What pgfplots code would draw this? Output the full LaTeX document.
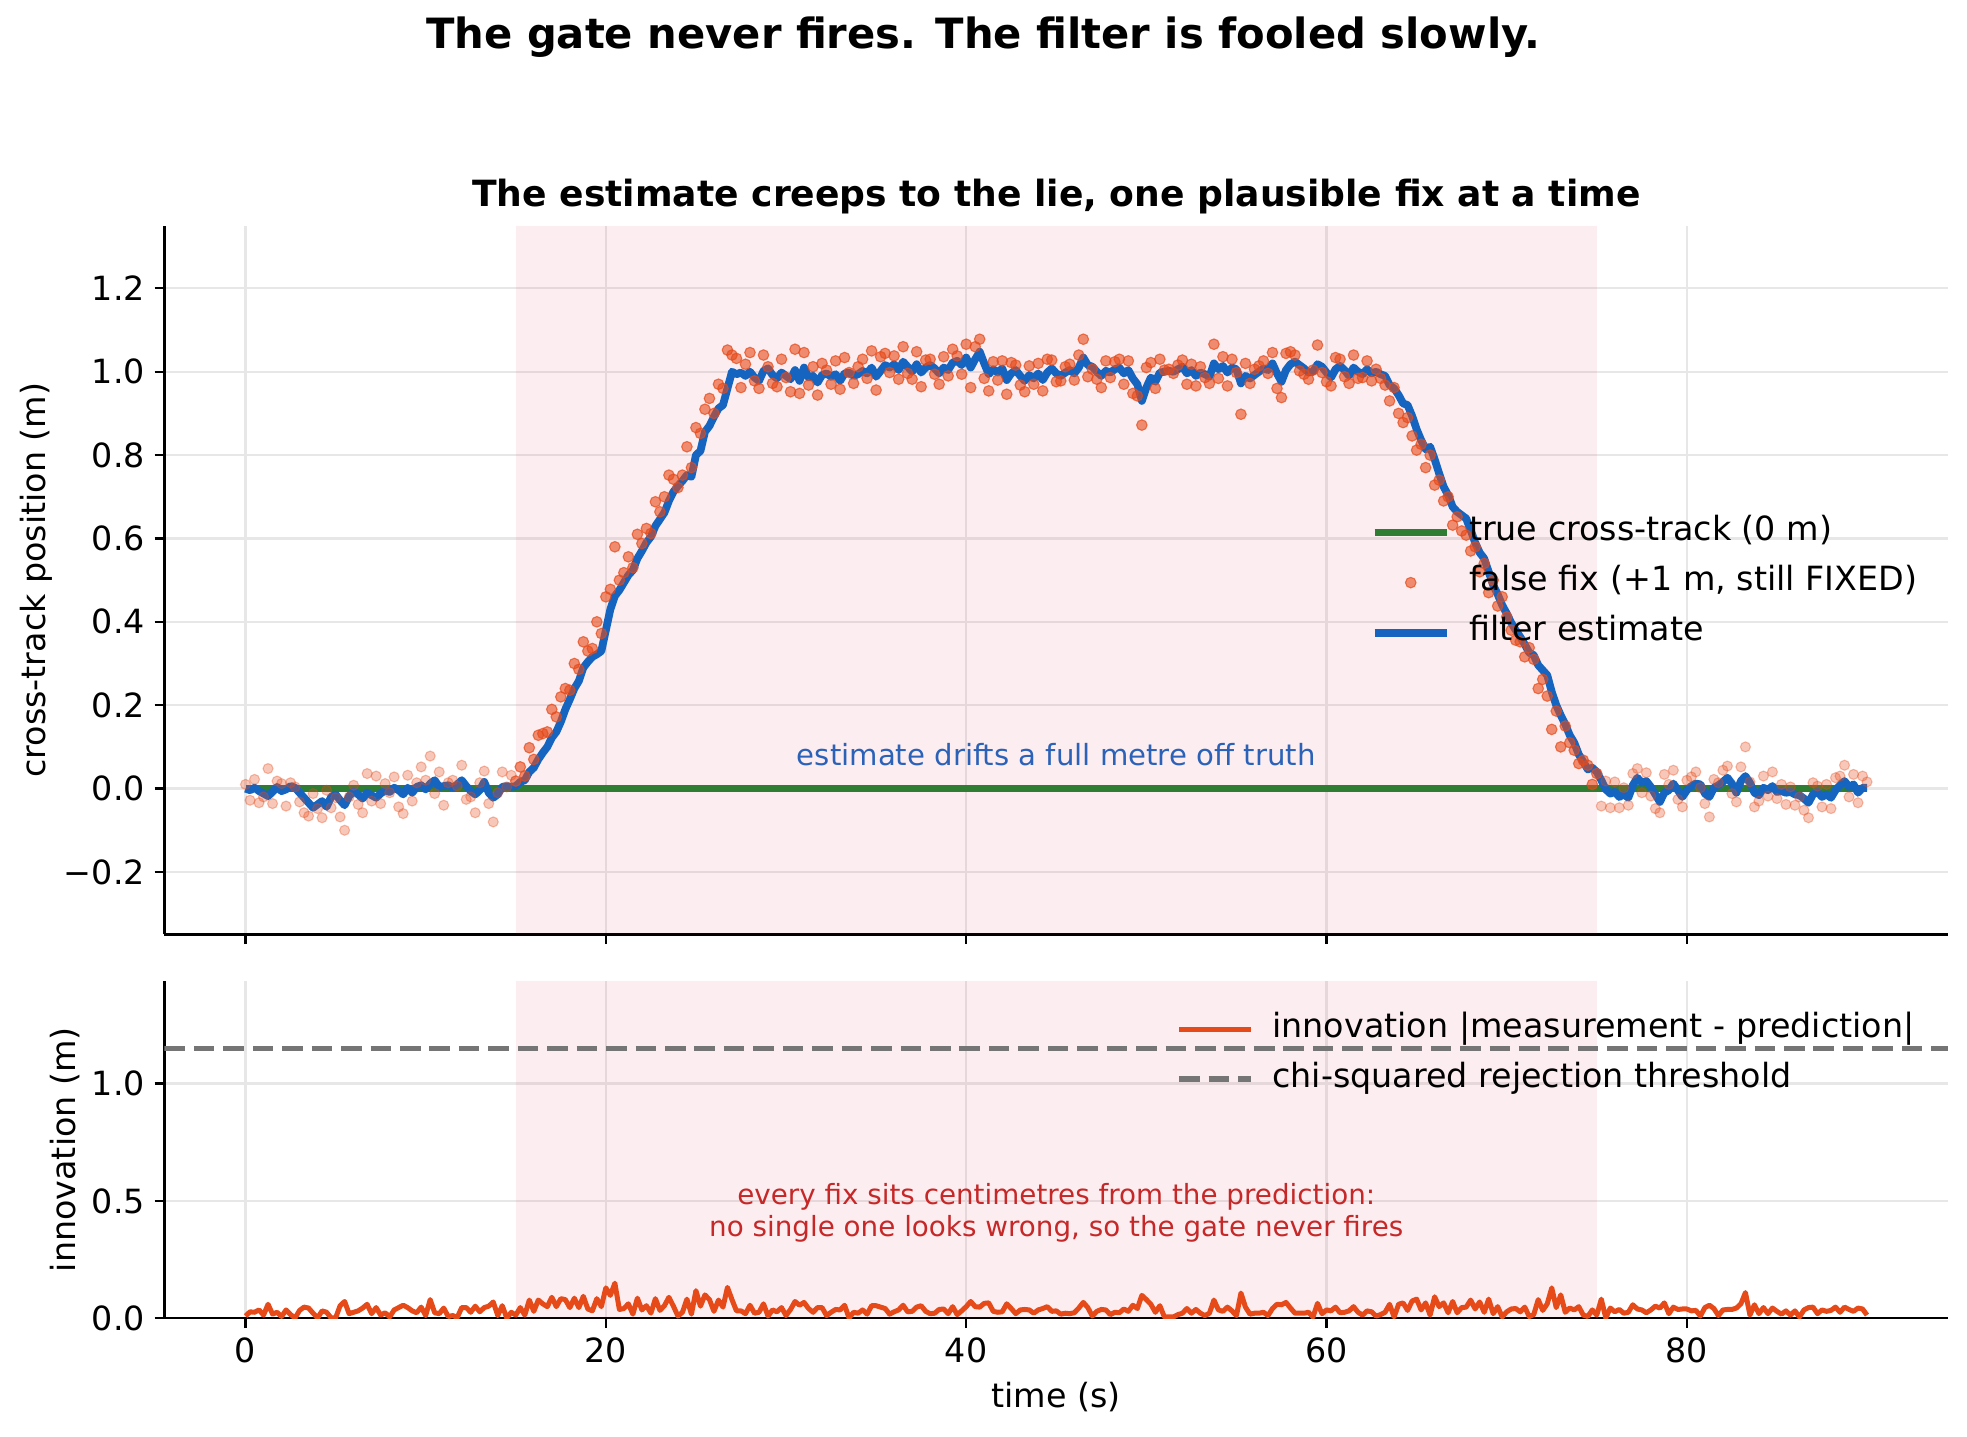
\documentclass[border=0pt]{standalone}
\usepackage{fontspec}
\setmainfont{DejaVu Sans}
\usepackage{pgfplots}
\usepackage{pgfplotstable}
\pgfplotsset{compat=1.18}
\definecolor{cblue}{HTML}{1565C0}
\definecolor{cgreen}{HTML}{2E7D32}
\definecolor{corange}{HTML}{E64A19}
\definecolor{cgray}{HTML}{757575}
\definecolor{cred}{HTML}{C62828}
\definecolor{ctext}{HTML}{2B62B8}
\definecolor{crimson}{RGB}{220,20,60}
\definecolor{gridc}{RGB}{231,231,231}

\pgfplotstableread{
t m e i
0.00 0.010 0.000 0.010
0.25 -0.028 -0.004 0.028
0.50 0.022 0.002 0.026
0.75 -0.034 -0.006 0.036
1.00 -0.020 -0.012 0.014
1.25 0.048 -0.018 0.060
1.50 -0.036 -0.008 0.018
1.75 0.018 0.004 0.026
2.00 0.012 -0.006 0.008
2.25 -0.042 -0.002 0.036
2.50 0.014 0.006 0.016
2.75 0.004 0.002 0.002
3.00 -0.032 -0.010 0.034
3.25 -0.058 -0.022 0.048
3.50 -0.066 -0.034 0.044
3.75 -0.012 -0.046 0.022
4.00 -0.048 -0.038 0.002
4.25 -0.070 -0.030 0.032
4.50 -0.004 -0.044 0.026
4.75 -0.046 -0.020 0.002
5.00 -0.022 -0.014 0.002
5.25 -0.068 -0.028 0.054
5.50 -0.100 -0.040 0.072
5.75 -0.020 -0.018 0.020
6.00 0.008 -0.006 0.026
6.25 -0.038 -0.014 0.032
6.50 -0.058 -0.024 0.044
6.75 0.036 -0.010 0.060
7.00 -0.030 -0.016 0.020
7.25 0.030 -0.022 0.046
7.50 -0.036 -0.012 0.014
7.75 0.012 -0.004 0.024
8.00 -0.010 -0.008 0.006
8.25 0.028 0.002 0.036
8.50 -0.044 -0.004 0.046
8.75 -0.060 -0.014 0.056
9.00 0.032 0.002 0.046
9.25 -0.030 -0.010 0.032
9.50 0.014 0.004 0.024
9.75 0.052 0.008 0.048
10.00 0.020 -0.002 0.012
10.25 0.078 0.012 0.080
10.50 -0.012 0.020 0.024
10.75 0.040 0.004 0.020
11.00 -0.040 0.006 0.044
11.25 0.014 0.008 0.008
11.50 0.020 0.002 0.012
11.75 0.006 0.010 0.004
12.00 0.056 0.020 0.046
12.25 -0.026 0.006 0.046
12.50 -0.020 -0.006 0.026
12.75 -0.058 -0.014 0.052
13.00 0.014 -0.004 0.028
13.25 0.042 0.016 0.046
13.50 -0.036 -0.010 0.052
13.75 -0.080 -0.022 0.070
14.00 -0.010 -0.014 0.012
14.25 0.040 0.004 0.054
14.50 0.004 0.006 0.002
14.75 0.032 0.004 0.026
15.00 0.018 0.006 0.014
15.25 0.052 0.016 0.046
15.50 0.030 0.020 0.014
15.75 0.098 0.040 0.078
16.00 0.070 0.050 0.030
16.25 0.128 0.070 0.078
16.50 0.132 0.086 0.062
16.75 0.136 0.100 0.050
17.00 0.190 0.122 0.090
17.25 0.172 0.136 0.050
17.50 0.220 0.160 0.084
17.75 0.240 0.190 0.080
18.00 0.236 0.214 0.046
18.25 0.300 0.240 0.086
18.50 0.286 0.258 0.046
18.75 0.352 0.290 0.094
19.00 0.330 0.304 0.040
19.25 0.336 0.316 0.032
19.50 0.400 0.322 0.084
19.75 0.372 0.330 0.050
20.00 0.460 0.380 0.130
20.25 0.478 0.430 0.098
20.50 0.580 0.462 0.150
20.75 0.500 0.476 0.038
21.00 0.518 0.494 0.042
21.25 0.556 0.512 0.062
21.50 0.530 0.524 0.018
21.75 0.610 0.552 0.086
22.00 0.588 0.570 0.036
22.25 0.624 0.590 0.054
22.50 0.612 0.604 0.022
22.75 0.688 0.630 0.084
23.00 0.664 0.646 0.034
23.25 0.700 0.662 0.054
23.50 0.752 0.690 0.090
23.75 0.742 0.712 0.052
24.00 0.722 0.726 0.010
24.25 0.752 0.738 0.026
24.50 0.820 0.752 0.082
24.75 0.770 0.748 0.018
25.00 0.866 0.800 0.118
25.25 0.852 0.810 0.052
25.50 0.910 0.856 0.100
25.75 0.936 0.870 0.080
26.00 0.900 0.892 0.030
26.25 0.970 0.912 0.078
26.50 0.960 0.920 0.048
26.75 1.052 0.960 0.132
27.00 1.040 1.000 0.080
27.25 1.032 0.994 0.032
27.50 0.962 0.998 0.032
27.75 1.018 0.990 0.020
28.00 1.046 1.000 0.056
28.25 0.978 0.986 0.022
28.50 0.960 0.978 0.026
28.75 1.040 1.002 0.062
29.00 1.012 1.008 0.010
29.25 0.972 0.992 0.036
29.50 0.964 0.984 0.028
29.75 1.030 0.998 0.046
30.00 0.986 0.990 0.012
30.25 0.952 0.982 0.038
30.50 1.054 1.004 0.072
30.75 0.948 0.978 0.056
31.00 1.046 1.010 0.068
31.25 0.968 0.986 0.042
31.50 1.012 0.990 0.026
31.75 0.944 0.974 0.046
32.00 1.020 0.992 0.046
32.25 1.004 0.996 0.012
32.50 0.970 0.988 0.026
32.75 1.026 0.994 0.038
33.00 0.958 0.978 0.036
33.25 1.034 0.996 0.056
33.50 0.998 0.998 0.002
33.75 0.972 0.990 0.026
34.00 1.012 0.994 0.022
34.25 1.030 1.002 0.036
34.50 0.984 0.996 0.018
34.75 1.050 1.010 0.054
35.00 0.956 0.988 0.054
35.25 1.036 1.002 0.048
35.50 1.044 1.016 0.042
35.75 0.998 1.010 0.018
36.00 1.038 1.018 0.028
36.25 0.982 1.004 0.036
36.50 1.060 1.024 0.056
36.75 0.996 1.012 0.028
37.00 0.982 1.000 0.030
37.25 1.048 1.018 0.048
37.50 0.964 0.998 0.054
37.75 1.028 1.010 0.030
38.00 1.030 1.016 0.020
38.25 0.994 1.008 0.022
38.50 0.970 0.996 0.038
38.75 1.036 1.010 0.040
39.00 0.990 1.004 0.020
39.25 1.054 1.022 0.050
39.50 1.038 1.026 0.016
39.75 0.994 1.016 0.032
40.00 1.066 1.034 0.050
40.25 0.962 1.010 0.072
40.50 1.060 1.030 0.050
40.75 1.078 1.048 0.048
41.00 0.984 1.020 0.064
41.25 0.954 0.994 0.066
41.50 1.024 1.006 0.030
41.75 0.980 0.998 0.026
42.00 1.026 1.008 0.028
42.25 0.946 0.980 0.062
42.50 1.022 0.996 0.042
42.75 1.016 1.004 0.020
43.00 0.968 0.990 0.036
43.25 0.952 0.978 0.038
43.50 1.014 0.992 0.036
43.75 0.970 0.984 0.022
44.00 1.020 0.996 0.036
44.25 0.954 0.980 0.042
44.50 1.030 0.998 0.050
44.75 1.028 1.008 0.030
45.00 0.976 0.996 0.032
45.25 0.978 0.990 0.018
45.50 1.012 0.998 0.022
45.75 1.018 1.004 0.020
46.00 0.980 0.996 0.024
46.25 1.040 1.010 0.044
46.50 1.078 1.034 0.068
46.75 0.988 1.016 0.046
47.00 1.006 1.012 0.010
47.25 0.982 1.000 0.030
47.50 0.962 0.990 0.038
47.75 1.026 1.002 0.036
48.00 0.986 0.998 0.016
48.25 1.024 1.006 0.026
48.50 1.030 1.010 0.024
48.75 0.970 0.996 0.040
49.00 1.026 1.004 0.030
49.25 0.948 0.984 0.056
49.50 0.942 0.970 0.042
49.75 0.872 0.930 0.098
50.00 1.010 0.962 0.080
50.25 1.022 0.986 0.060
50.50 0.960 0.976 0.026
50.75 1.030 0.998 0.054
51.00 1.004 1.000 0.006
51.25 1.006 1.002 0.006
51.50 0.996 1.000 0.006
51.75 1.016 1.006 0.016
52.00 1.028 1.012 0.022
52.25 0.970 0.996 0.042
52.50 1.018 1.004 0.022
52.75 0.966 0.990 0.038
53.00 1.012 0.998 0.022
53.25 0.986 0.994 0.012
53.50 0.972 0.988 0.022
53.75 1.066 1.020 0.078
54.00 0.984 1.006 0.036
54.25 1.036 1.014 0.030
54.50 0.966 0.998 0.048
54.75 1.030 1.010 0.032
55.00 0.998 1.006 0.012
55.25 0.898 0.972 0.108
55.50 1.020 0.990 0.048
55.75 0.972 0.984 0.018
56.00 1.006 0.992 0.022
56.25 1.014 1.000 0.022
56.50 1.026 1.008 0.026
56.75 0.996 1.004 0.012
57.00 1.046 1.020 0.042
57.25 0.960 0.996 0.060
57.50 0.938 0.976 0.058
57.75 1.044 1.004 0.068
58.00 1.048 1.018 0.044
58.25 1.040 1.024 0.022
58.50 1.002 1.016 0.022
58.75 0.994 1.008 0.022
59.00 0.982 0.998 0.026
59.25 1.004 1.000 0.006
59.50 1.064 1.018 0.064
59.75 0.998 1.012 0.020
60.00 0.976 0.998 0.036
60.25 0.966 0.986 0.032
60.50 1.034 1.006 0.048
60.75 1.030 1.014 0.024
61.00 0.988 1.004 0.026
61.25 0.972 0.990 0.032
61.50 1.040 1.010 0.050
61.75 0.984 1.000 0.026
62.00 0.986 0.994 0.014
62.25 1.026 1.006 0.032
62.50 0.978 0.996 0.028
62.75 1.006 1.000 0.010
63.00 0.984 0.994 0.016
63.25 0.968 0.990 0.026
63.50 0.930 0.968 0.060
63.75 0.962 0.960 0.006
64.00 0.900 0.944 0.060
64.25 0.878 0.924 0.066
64.50 0.890 0.920 0.034
64.75 0.846 0.894 0.074
65.00 0.812 0.862 0.082
65.25 0.826 0.836 0.036
65.50 0.770 0.814 0.066
65.75 0.800 0.820 0.014
66.00 0.728 0.790 0.092
66.25 0.740 0.756 0.050
66.50 0.690 0.724 0.066
66.75 0.700 0.704 0.024
67.00 0.632 0.676 0.072
67.25 0.652 0.664 0.024
67.50 0.618 0.656 0.046
67.75 0.608 0.648 0.048
68.00 0.570 0.620 0.078
68.25 0.580 0.590 0.040
68.50 0.520 0.566 0.070
68.75 0.540 0.552 0.026
69.00 0.470 0.520 0.082
69.25 0.500 0.488 0.020
69.50 0.438 0.466 0.050
69.75 0.460 0.440 0.006
70.00 0.412 0.420 0.028
70.25 0.380 0.398 0.040
70.50 0.356 0.380 0.042
70.75 0.352 0.364 0.028
71.00 0.316 0.346 0.048
71.25 0.338 0.326 0.008
71.50 0.310 0.320 0.016
71.75 0.240 0.296 0.080
72.00 0.262 0.284 0.034
72.25 0.222 0.272 0.062
72.50 0.142 0.232 0.130
72.75 0.186 0.200 0.046
73.00 0.100 0.176 0.100
73.25 0.150 0.154 0.026
73.50 0.110 0.128 0.044
73.75 0.092 0.110 0.036
74.00 0.060 0.082 0.050
74.25 0.068 0.064 0.014
74.50 0.056 0.046 0.008
74.75 0.010 0.050 0.036
75.00 0.036 0.040 0.014
75.25 -0.042 0.020 0.082
75.50 0.018 -0.002 0.002
75.75 -0.046 -0.012 0.044
76.00 0.016 -0.008 0.028
76.25 -0.046 -0.020 0.038
76.50 0.002 -0.014 0.022
76.75 -0.040 -0.022 0.026
77.00 0.036 0.008 0.058
77.25 0.048 0.026 0.040
77.50 -0.010 0.014 0.036
77.75 0.038 0.018 0.024
78.00 -0.018 0.004 0.036
78.25 -0.048 -0.014 0.052
78.50 -0.058 -0.032 0.044
78.75 0.034 -0.010 0.066
79.00 0.010 -0.004 0.020
79.25 0.044 0.012 0.048
79.50 -0.026 -0.004 0.038
79.75 -0.044 -0.020 0.040
80.00 0.020 -0.004 0.040
80.25 0.028 0.006 0.032
80.50 0.040 0.012 0.034
80.75 0.002 0.010 0.010
81.00 -0.036 -0.012 0.046
81.25 -0.068 -0.020 0.056
81.50 0.022 0.002 0.042
81.75 0.014 0.008 0.012
82.00 0.044 0.016 0.036
82.25 0.054 0.026 0.038
82.50 -0.012 0.012 0.038
82.75 -0.032 -0.010 0.044
83.00 0.052 0.018 0.062
83.25 0.100 0.030 0.110
83.50 0.016 0.014 0.014
83.75 -0.044 -0.010 0.058
84.00 -0.030 -0.016 0.020
84.25 0.030 0.002 0.046
84.50 -0.018 -0.004 0.020
84.75 0.040 0.006 0.044
85.00 -0.024 -0.008 0.030
85.25 0.010 -0.006 0.018
85.50 -0.038 -0.010 0.032
85.75 0.004 -0.008 0.014
86.00 -0.040 -0.014 0.032
86.25 -0.020 -0.016 0.006
86.50 -0.052 -0.024 0.036
86.75 -0.070 -0.034 0.046
87.00 0.014 -0.014 0.048
87.25 0.006 -0.008 0.020
87.50 -0.044 -0.020 0.036
87.75 0.010 -0.014 0.030
88.00 -0.048 -0.022 0.034
88.25 0.026 -0.004 0.048
88.50 0.030 0.008 0.026
88.75 0.056 0.018 0.048
89.00 -0.020 0.004 0.038
89.25 0.034 0.010 0.030
89.50 -0.034 -0.010 0.044
89.75 0.030 0.002 0.040
90.00 0.016 0.002 0.014
}\data

\pgfplotsset{
  mpl/.style={
    scale only axis, width=642.1pt, xmin=-4.5, xmax=94.5,
    axis x line*=bottom, axis y line*=left,
    axis line style={line width=0.8pt, black},
    tick align=outside, major tick length=3.5pt,
    every tick/.style={line width=0.8pt, black},
    grid=major, major grid style={gridc, line width=0.8pt},
    xtick={0,20,40,60,80},
    tick label style={font=\fontsize{12}{14}\selectfont},
    label style={font=\fontsize{12}{14}\selectfont},
    ylabel style={yshift=-2.6pt},
    legend cell align=left,
    legend style={draw=none, fill=none, inner sep=0pt, row sep=6pt, column sep=6.6pt,
      font=\fontsize{12}{14}\selectfont,
      nodes={inner sep=0pt, text height=9pt, text depth=3pt}},
  },
  linelegend/.style={legend image code/.code={\draw[##1] (0pt,0pt) -- (26pt,0pt);}},
  dotlegend/.style={legend image code/.code={\draw[mark repeat=2,mark phase=2,##1] plot coordinates {(0pt,0pt) (13pt,0pt) (26pt,0pt)};}},
}

\begin{document}
\begin{tikzpicture}
\useasboundingbox (0,0) rectangle (708.1pt,517.1pt);
\node[font=\bfseries\fontsize{15}{18}\selectfont] at (354pt,503.6pt) {The gate never fires. The filter is fooled slowly.};
\node[font=\bfseries\fontsize{13}{16}\selectfont] at (380.3pt,446.2pt) {The estimate creeps to the lie, one plausible fix at a time};

\begin{axis}[mpl, at={(59.2pt,180.7pt)}, anchor=south west, height=255.1pt,
  ymin=-0.35, ymax=1.35,
  ytick={-0.2,0,0.2,0.4,0.6,0.8,1.0,1.2},
  yticklabels={−0.2,0.0,0.2,0.4,0.6,0.8,1.0,1.2},
  xticklabels={},
  ylabel={cross-track position (m)},
  legend style={at={(0.676,0.4965)}, anchor=west}]
\addplot[draw=none, fill=crimson, fill opacity=0.075, forget plot] coordinates {(15,-0.35) (75,-0.35) (75,1.35) (15,1.35) (15,-0.35)};
\addplot[cgreen, line width=2.5pt, linelegend] coordinates {(0,0) (90,0)};
\addlegendentry{true cross-track (0 m)}
\addplot[only marks, mark=*, mark size=1.8pt, corange, mark options={fill opacity=0.3, draw opacity=0.35}, forget plot, restrict x to domain=0:14.9] table[x=t,y=m]{\data};
\addplot[only marks, mark=*, mark size=1.8pt, corange, mark options={fill opacity=0.3, draw opacity=0.35}, forget plot, restrict x to domain=75.1:90] table[x=t,y=m]{\data};
\addplot[only marks, mark=*, mark size=1.9pt, corange, mark options={fill opacity=0.6, draw opacity=0.7}, restrict x to domain=15:75, dotlegend] table[x=t,y=m]{\data};
\addlegendentry{false fix (+1 m, still FIXED)}
\addplot[cblue, line width=2.8pt, line join=round, linelegend] table[x=t,y=e]{\data};
\addlegendentry{filter estimate}
\node[ctext, font=\fontsize{10.5}{12}\selectfont] at (axis cs:45,0.081) {estimate drifts a full metre off truth};
\end{axis}

\begin{axis}[mpl, at={(59.2pt,42.5pt)}, anchor=south west, height=121.5pt,
  ymin=0, ymax=1.4375,
  ytick={0,0.5,1.0}, yticklabels={0.0,0.5,1.0},
  xticklabels={0,20,40,60,80},
  xlabel={time (s)}, ylabel={innovation (m)},
  legend style={at={(0.567,0.783)}, anchor=west}]
\addplot[draw=none, fill=crimson, fill opacity=0.075, forget plot] coordinates {(15,0) (75,0) (75,1.4375) (15,1.4375) (15,0)};
\addplot[corange, line width=1.8pt, line join=round, linelegend] table[x=t,y=i]{\data};
\addlegendentry{innovation |measurement - prediction|}
\addplot[cgray, line width=2pt, dash pattern=on 7.4pt off 3.2pt, linelegend] coordinates {(-4.5,1.15) (94.5,1.15)};
\addlegendentry{chi-squared rejection threshold}
\node[cred, font=\fontsize{10}{11.5}\selectfont, align=center] at (axis cs:45,0.45) {every fix sits centimetres from the prediction:\\no single one looks wrong, so the gate never fires};
\end{axis}
\end{tikzpicture}
\end{document}
